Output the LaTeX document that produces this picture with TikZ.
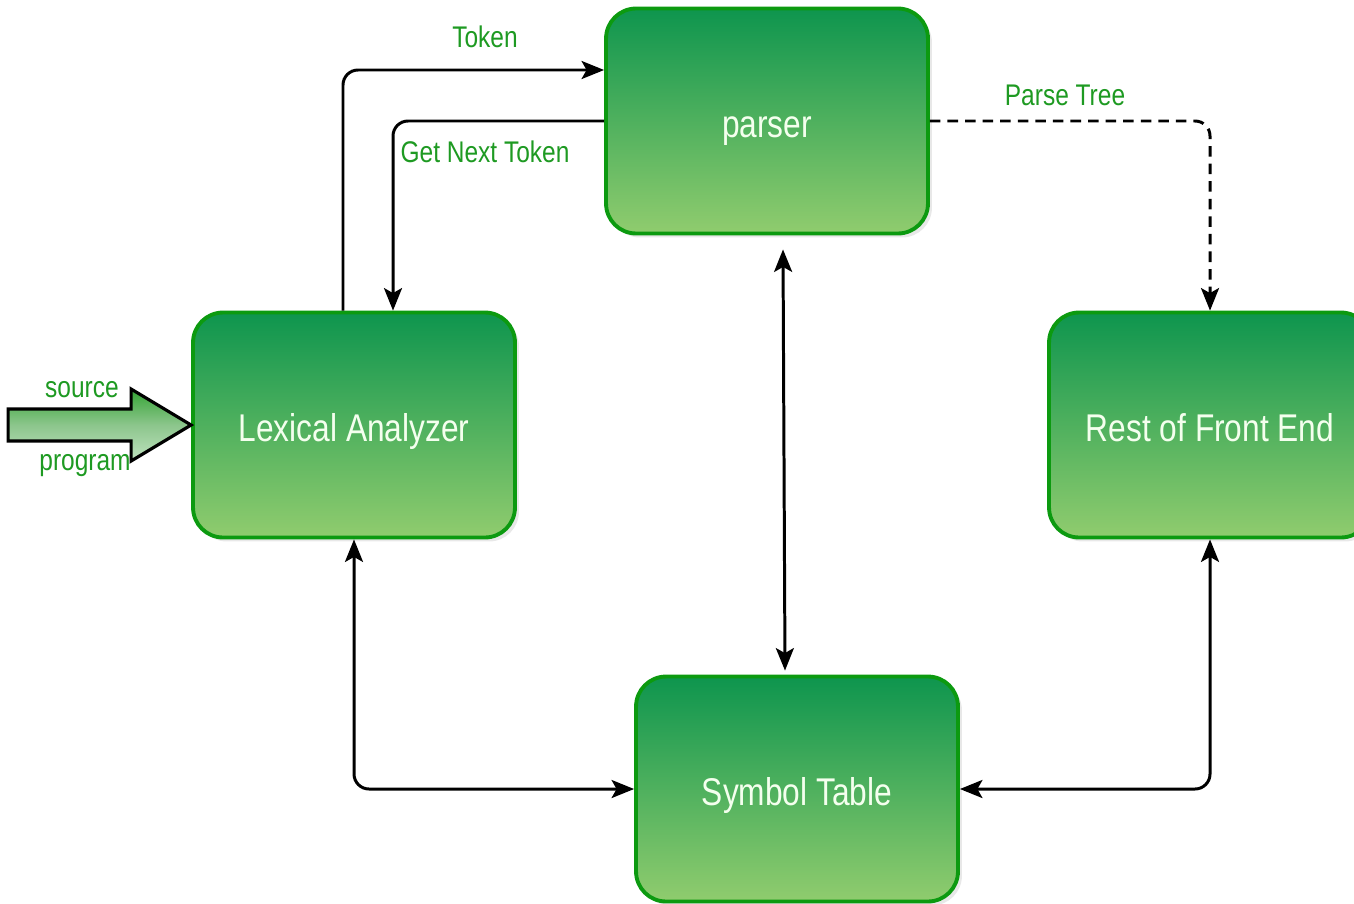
\documentclass[tikz,border=0pt]{standalone}
\usepackage{fontspec}
\setmainfont{Liberation Sans}[FakeStretch=0.82]
\usetikzlibrary{arrows.meta,calc,shadows}

\definecolor{boxtop}{HTML}{0E954E}
\definecolor{boxbottom}{HTML}{90CC6E}
\definecolor{boxline}{HTML}{0C9A10}
\definecolor{boxtext}{HTML}{F4FFEE}
\definecolor{labelgreen}{HTML}{1E9A22}

\tikzset{
  stagebox/.style={rectangle, rounded corners=0.6cm, draw=boxline, line width=2.2pt,
    top color=boxtop, bottom color=boxbottom, text=boxtext,
    minimum width=6.44cm, minimum height=4.5cm,
    text height=0.82cm, text depth=0.16cm,
    font=\fontsize{22}{26}\selectfont,
    drop shadow={opacity=0.18, shadow xshift=0.08cm, shadow yshift=-0.08cm}},
  flowlabel/.style={text=labelgreen, font=\fontsize{17}{20}\selectfont, inner sep=1pt},
  conn/.style={line width=1.7pt, rounded corners=0.3cm, -{Stealth[length=0.45cm,width=0.36cm,inset=0.1cm]}},
  bothconn/.style={conn, {Stealth[length=0.45cm,width=0.36cm,inset=0.1cm]}-{Stealth[length=0.45cm,width=0.36cm,inset=0.1cm]}}
}

\begin{document}
\begin{tikzpicture}[x=0.02cm, y=-0.02cm]

  % Rahmen
  \clip (0,0) rectangle (1354,903);
  \fill[white] (0,0) rectangle (1354,903);

  % Bausteine
  \node[stagebox] (parser) at (767,121) {parser};
  \node[stagebox] (lex) at (354,425) {Lexical Analyzer};
  \node[stagebox] (rest) at (1210,425) {Rest of Front End};
  \node[stagebox] (sym) at (797,789) {Symbol Table};

  % Eingabepfeil
  \draw[line width=1.8pt, top color=green!55!black!80, bottom color=green!55!black!25, middle color=green!50!black!45]
    ($(lex.west)+(-183,-16)$) -- ($(lex.west)+(-60,-16)$) -- ($(lex.west)+(-60,-36)$)
    -- (lex.west) -- ($(lex.west)+(-60,36)$) -- ($(lex.west)+(-60,16)$)
    -- ($(lex.west)+(-183,16)$) -- cycle;
  \node[flowlabel] (srclabel) at (82,390) {source};
  \node[flowlabel] (proglabel) at (85,466) {program};

  % Token
  \draw[conn] ($(lex.north)+(-11,0)$) |- ($(parser.west)+(0,-51)$);
  \node[flowlabel] (toklabel) at (485,37) {Token};

  % Get Next Token
  \draw[conn] (parser.west) -| ($(lex.north)+(39,0)$);
  \node[flowlabel] (nextlabel) at (485,152) {Get Next Token};

  % Parse Tree
  \draw[conn, dash pattern=on 6pt off 4pt] (parser.east) -| (rest.north);
  \node[flowlabel] (treelabel) at (1065,95) {Parse Tree};

  % Symboltabelle
  \draw[bothconn] ($(parser.south)+(16,14)$) -- ($(sym.north)+(-12,-4)$);
  \draw[bothconn] (lex.south) |- (sym.west);
  \draw[bothconn] (rest.south) |- (sym.east);

\end{tikzpicture}
\end{document}
